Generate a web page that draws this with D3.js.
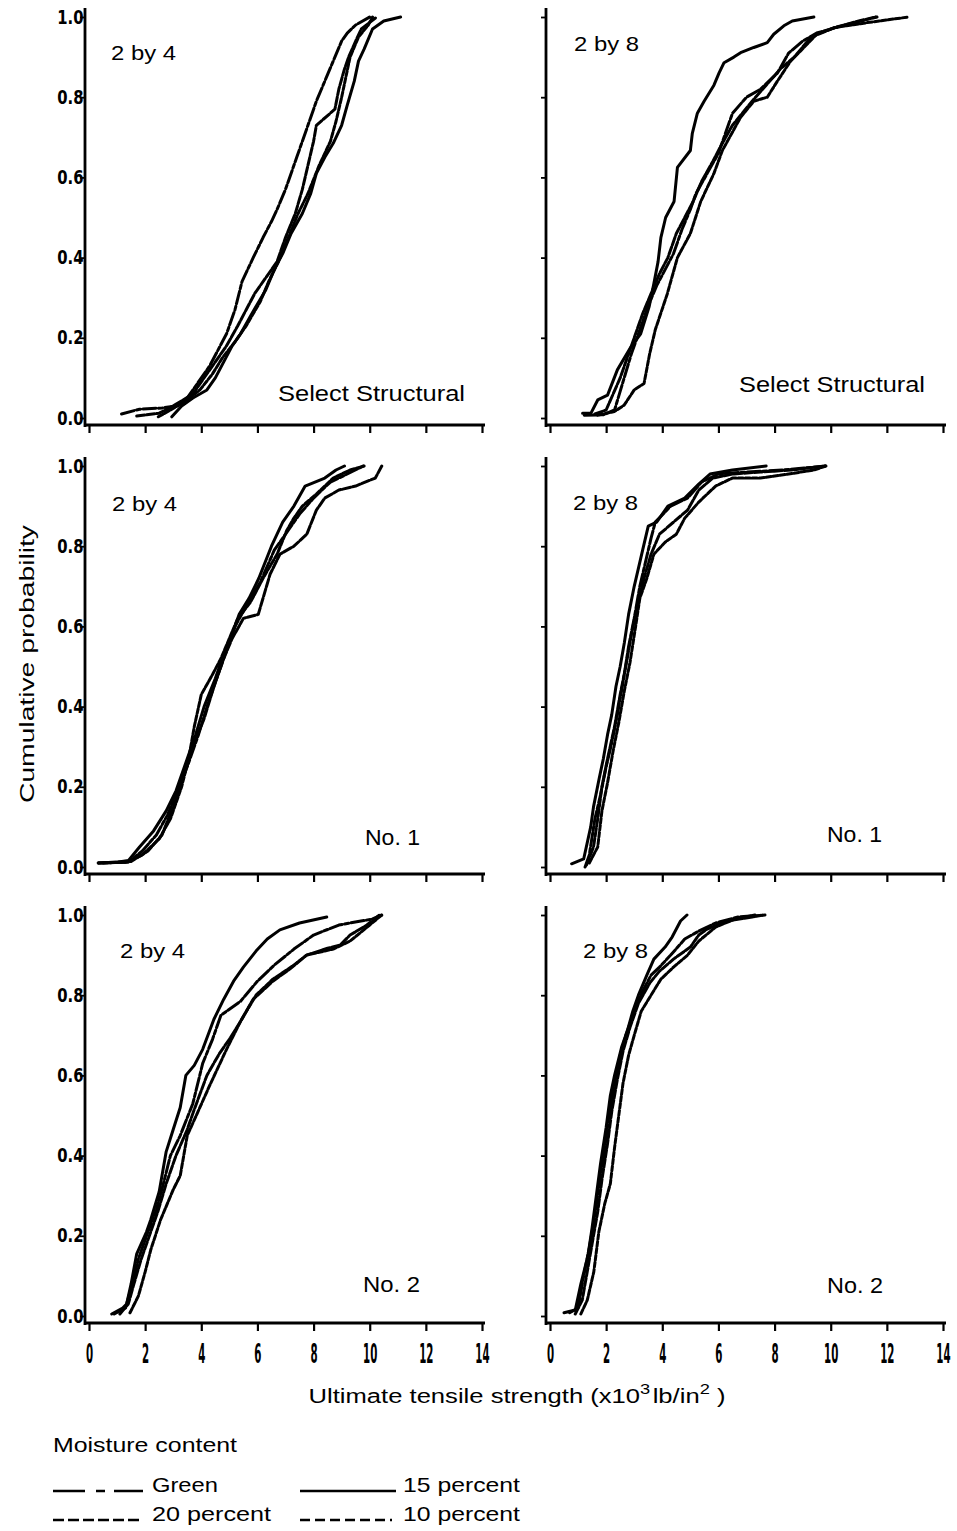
<!DOCTYPE html>
<html><head><meta charset="utf-8">
<script src="https://cdn.jsdelivr.net/npm/d3@7"></script>
<style>body{margin:0;background:#fff}svg{display:block}</style>
</head><body>
<script>
// ---------------- DATA ----------------
const xTicks = [0, 2, 4, 6, 8, 10, 12, 14];
const yTicks = [0, 0.2, 0.4, 0.6, 0.8, 1.0];
const yTickLabels = ["0.0", "0.2", "0.4", "0.6", "0.8", "1.0"];
const sizes = ["2 by 4", "2 by 8"];
const grades = ["Select Structural", "No. 1", "No. 2"];
const seriesNames = ["Green", "15 percent", "20 percent", "10 percent"];

// Select Structural, 2 by 4   [strength (x10^3 lb/in^2), cumulative probability]
const ss24Green = [[1.16,0.01],[1.8,0.022],[2.6,0.025],[3.1,0.03],[3.5,0.05],[3.9,0.09],[4.3,0.13],[4.6,0.17],[4.9,0.21],[5.2,0.27],[5.45,0.34],[5.85,0.40],[6.2,0.45],[6.5,0.49],[6.7,0.52],[7.0,0.57],[7.4,0.65],[7.8,0.73],[8.1,0.79],[8.4,0.84],[8.7,0.89],[9.0,0.94],[9.2,0.96],[9.5,0.98],[10.0,1.0]];
const ss24P20 = [[1.7,0.005],[2.5,0.012],[3.0,0.03],[3.7,0.06],[4.4,0.13],[4.9,0.18],[5.3,0.23],[5.6,0.27],[5.9,0.31],[6.3,0.35],[6.7,0.39],[7.0,0.45],[7.35,0.51],[7.6,0.57],[7.8,0.63],[8.0,0.69],[8.1,0.73],[8.76,0.77],[8.9,0.82],[9.1,0.87],[9.25,0.9],[9.5,0.94],[9.7,0.97],[10.25,1.0]];
const ss24P10 = [[2.47,0.003],[2.9,0.02],[3.4,0.04],[3.95,0.07],[4.4,0.11],[4.75,0.15],[5.2,0.19],[5.6,0.23],[6.1,0.29],[6.4,0.34],[6.75,0.39],[7.1,0.45],[7.45,0.51],[7.8,0.56],[8.2,0.63],[8.6,0.69],[8.8,0.74],[9.0,0.8],[9.3,0.9],[9.6,0.95],[9.95,0.98],[10.1,1.0]];
const ss24P15 = [[2.95,0.003],[3.3,0.03],[3.7,0.05],[4.2,0.07],[4.5,0.1],[4.8,0.14],[5.1,0.18],[5.4,0.21],[5.8,0.26],[6.3,0.32],[6.6,0.37],[6.9,0.41],[7.2,0.46],[7.6,0.51],[7.9,0.56],[8.1,0.61],[8.4,0.65],[8.7,0.685],[9.0,0.73],[9.2,0.78],[9.45,0.84],[9.6,0.89],[9.8,0.92],[10.1,0.97],[10.5,0.99],[11.1,1.0]];

// Select Structural, 2 by 8
const ss28P15 = [[1.16,0.012],[1.46,0.012],[1.7,0.045],[2.05,0.057],[2.4,0.12],[2.88,0.177],[3.23,0.21],[3.53,0.277],[3.7,0.335],[3.85,0.39],[3.95,0.45],[4.12,0.50],[4.42,0.54],[4.54,0.625],[5.0,0.667],[5.07,0.71],[5.25,0.76],[5.49,0.79],[5.84,0.83],[6.02,0.86],[6.2,0.886],[6.55,0.9],[6.79,0.911],[7.26,0.924],[7.74,0.936],[7.97,0.957],[8.33,0.978],[8.63,0.99],[9.4,1.0]];
const ss28Green = [[1.22,0.007],[1.9,0.008],[2.3,0.02],[2.6,0.09],[2.9,0.16],[3.2,0.22],[3.5,0.28],[3.8,0.33],[4.1,0.37],[4.4,0.41],[4.7,0.47],[5.0,0.52],[5.2,0.56],[5.6,0.61],[6.0,0.66],[6.2,0.7],[6.5,0.76],[7.0,0.8],[7.5,0.82],[8.1,0.86],[8.5,0.91],[9.0,0.94],[9.5,0.96],[10.5,0.98],[11.65,1.0]];
const ss28P20 = [[1.6,0.01],[2.0,0.02],[2.5,0.1],[2.75,0.15],[3.0,0.2],[3.3,0.26],[3.6,0.31],[3.9,0.36],[4.2,0.40],[4.5,0.46],[4.8,0.5],[5.1,0.54],[5.4,0.59],[5.8,0.64],[6.1,0.68],[6.5,0.73],[7.2,0.79],[7.7,0.83],[8.2,0.87],[8.7,0.9],[9.3,0.95],[10.2,0.975],[11.0,0.99],[11.6,1.0]];
const ss28P10 = [[1.7,0.007],[2.29,0.016],[2.64,0.032],[3.0,0.07],[3.35,0.086],[3.55,0.16],[3.75,0.22],[4.18,0.31],[4.54,0.40],[5.0,0.46],[5.37,0.54],[5.84,0.61],[6.14,0.667],[6.32,0.69],[6.79,0.75],[7.26,0.79],[7.74,0.8],[8.1,0.84],[8.57,0.89],[8.92,0.915],[9.5,0.957],[10.1,0.973],[11.3,0.986],[12.77,1.0]];

// No. 1, 2 by 4
const n124P15 = [[0.33,0.01],[1.0,0.012],[1.4,0.016],[1.8,0.05],[2.3,0.09],[2.75,0.14],[3.1,0.19],[3.45,0.26],[3.8,0.33],[4.1,0.4],[4.5,0.47],[4.8,0.53],[5.1,0.58],[5.35,0.63],[5.7,0.67],[6.05,0.72],[6.5,0.8],[6.9,0.86],[7.3,0.9],[7.7,0.95],[8.4,0.97],[8.8,0.99],[9.1,1.0]];
const n124Green = [[0.33,0.01],[1.4,0.012],[1.9,0.04],[2.4,0.08],[2.8,0.13],[3.2,0.2],[3.5,0.25],[3.9,0.33],[4.25,0.41],[4.6,0.48],[4.9,0.54],[5.2,0.6],[5.6,0.65],[6.1,0.71],[6.6,0.79],[7.1,0.84],[7.5,0.88],[8.0,0.92],[8.6,0.96],[9.2,0.98],[9.77,1.0]];
const n124P20 = [[0.33,0.01],[1.5,0.014],[2.1,0.04],[2.6,0.08],[3.0,0.15],[3.3,0.21],[3.7,0.3],[4.1,0.37],[4.45,0.45],[4.8,0.52],[5.1,0.57],[5.5,0.62],[6.03,0.63],[6.45,0.73],[6.8,0.78],[7.3,0.8],[7.76,0.83],[8.1,0.89],[8.4,0.92],[8.9,0.94],[9.5,0.95],[10.2,0.97],[10.43,1.0]];
const n124P10 = [[0.5,0.01],[1.3,0.012],[1.9,0.03],[2.5,0.07],[2.9,0.12],[3.3,0.2],[3.55,0.27],[3.75,0.35],[4.0,0.43],[4.4,0.48],[4.7,0.52],[5.0,0.57],[5.3,0.62],[5.75,0.66],[6.2,0.72],[6.7,0.78],[7.05,0.84],[7.3,0.87],[7.6,0.9],[8.1,0.93],[8.7,0.97],[9.3,0.99],[9.8,1.0]];

// No. 1, 2 by 8
const n128P15 = [[0.77,0.008],[1.2,0.02],[1.45,0.1],[1.55,0.15],[1.75,0.22],[1.9,0.27],[2.05,0.33],[2.2,0.38],[2.35,0.45],[2.5,0.5],[2.65,0.56],[2.8,0.63],[3.0,0.7],[3.3,0.79],[3.5,0.85],[3.8,0.86],[4.2,0.9],[4.8,0.92],[5.3,0.955],[5.7,0.98],[6.5,0.99],[7.7,1.0]];
const n128Green = [[1.25,0.0],[1.4,0.03],[1.6,0.12],[1.8,0.18],[2.0,0.25],[2.2,0.31],[2.4,0.38],[2.6,0.46],[2.8,0.55],[3.0,0.62],[3.2,0.7],[3.4,0.76],[3.6,0.82],[3.75,0.86],[4.3,0.9],[4.9,0.92],[5.4,0.96],[6.0,0.98],[7.0,0.985],[8.3,0.99],[9.8,1.0]];
const n128P20 = [[1.3,0.005],[1.55,0.05],[1.7,0.12],[1.85,0.2],[2.05,0.27],[2.3,0.35],[2.5,0.43],[2.7,0.5],[2.9,0.58],[3.1,0.65],[3.35,0.72],[3.6,0.78],[3.9,0.83],[4.4,0.86],[4.9,0.89],[5.3,0.94],[5.8,0.97],[6.5,0.98],[7.5,0.985],[8.6,0.99],[9.2,0.995],[9.8,1.0]];
const n128P10 = [[1.4,0.01],[1.7,0.05],[1.85,0.14],[2.05,0.21],[2.25,0.29],[2.45,0.36],[2.65,0.44],[2.85,0.51],[3.05,0.6],[3.2,0.67],[3.45,0.72],[3.7,0.78],[4.1,0.81],[4.5,0.83],[4.8,0.87],[5.3,0.91],[5.9,0.95],[6.5,0.97],[7.5,0.97],[8.5,0.98],[9.4,0.99],[9.83,1.0]];

// No. 2, 2 by 4
const n224P15 = [[0.81,0.005],[1.2,0.02],[1.34,0.03],[1.5,0.08],[1.7,0.155],[2.05,0.21],[2.2,0.24],[2.5,0.31],[2.75,0.41],[3.0,0.465],[3.25,0.52],[3.45,0.6],[3.75,0.625],[4.05,0.665],[4.45,0.74],[4.8,0.79],[5.15,0.835],[5.5,0.87],[5.95,0.91],[6.35,0.94],[6.8,0.963],[7.5,0.98],[8.47,0.995]];
const n224Green = [[0.9,0.005],[1.3,0.02],[1.5,0.07],[1.75,0.14],[2.1,0.21],[2.4,0.265],[2.65,0.33],[2.9,0.4],[3.25,0.45],[3.7,0.53],[4.05,0.63],[4.4,0.69],[4.7,0.75],[5.4,0.785],[6.0,0.835],[6.6,0.875],[7.3,0.915],[8.0,0.95],[8.9,0.975],[10.1,0.99],[10.43,1.0]];
const n224P20 = [[1.1,0.005],[1.4,0.03],[1.6,0.08],[1.85,0.14],[2.15,0.2],[2.45,0.26],[2.75,0.33],[3.1,0.4],[3.5,0.465],[3.75,0.515],[4.2,0.6],[4.65,0.655],[5.0,0.69],[5.4,0.735],[5.85,0.79],[6.55,0.835],[7.15,0.865],[7.75,0.9],[8.5,0.917],[8.95,0.925],[9.3,0.95],[9.9,0.975],[10.35,1.0]];
const n224P10 = [[1.46,0.008],[1.76,0.05],[2.0,0.11],[2.2,0.165],[2.55,0.24],[3.0,0.315],[3.25,0.35],[3.4,0.41],[3.5,0.45],[3.95,0.52],[4.3,0.575],[4.9,0.665],[5.4,0.735],[5.95,0.8],[6.55,0.84],[7.3,0.875],[7.75,0.9],[8.7,0.915],[9.3,0.935],[10.0,0.975],[10.43,1.0]];

// No. 2, 2 by 8
const n228P15 = [[0.5,0.008],[0.9,0.015],[1.1,0.08],[1.35,0.15],[1.5,0.22],[1.65,0.3],[1.8,0.38],[2.0,0.47],[2.15,0.55],[2.3,0.6],[2.55,0.67],[2.75,0.71],[2.95,0.76],[3.15,0.8],[3.45,0.85],[3.7,0.89],[4.1,0.92],[4.35,0.945],[4.65,0.985],[4.88,1.0]];
const n228Green = [[0.7,0.008],[1.0,0.02],[1.2,0.1],[1.4,0.17],[1.6,0.25],[1.75,0.33],[1.95,0.42],[2.1,0.5],[2.3,0.58],[2.5,0.65],[2.7,0.7],[3.0,0.76],[3.3,0.81],[3.6,0.85],[3.9,0.87],[4.3,0.9],[4.8,0.94],[5.3,0.96],[5.9,0.98],[6.7,0.995],[7.66,1.0]];
const n228P20 = [[0.9,0.005],[1.15,0.04],[1.3,0.1],[1.5,0.18],[1.7,0.26],[1.85,0.34],[2.05,0.43],[2.2,0.51],[2.4,0.59],[2.6,0.66],[2.85,0.72],[3.15,0.78],[3.55,0.83],[3.9,0.86],[4.4,0.89],[5.0,0.92],[5.3,0.95],[5.6,0.965],[6.3,0.985],[7.2,0.995],[7.6,1.0]];
const n228P10 = [[1.1,0.005],[1.33,0.04],[1.56,0.11],[1.74,0.21],[1.95,0.28],[2.15,0.33],[2.3,0.42],[2.45,0.5],[2.6,0.58],[2.8,0.65],[3.0,0.7],[3.25,0.76],[3.6,0.8],[3.95,0.84],[4.4,0.87],[4.9,0.9],[5.3,0.935],[5.9,0.97],[6.6,0.99],[7.3,1.0]];

const panelData = [
  {grade: 0, size: 0, curves: [ss24Green, ss24P15, ss24P20, ss24P10]},
  {grade: 0, size: 1, curves: [ss28Green, ss28P15, ss28P20, ss28P10]},
  {grade: 1, size: 0, curves: [n124Green, n124P15, n124P20, n124P10]},
  {grade: 1, size: 1, curves: [n128Green, n128P15, n128P20, n128P10]},
  {grade: 2, size: 0, curves: [n224Green, n224P15, n224P20, n224P10]},
  {grade: 2, size: 1, curves: [n228Green, n228P15, n228P20, n228P10]}
];

// ---------------- LAYOUT / STYLE ----------------
const W = 957, H = 1531;
const colX0 = [89, 550];          // pixel of strength 0
const rowY0 = [418, 867, 1316];   // pixel of probability 0
const PW = 393, PH = 401;
const curveDash = ["13,2.5,4,2.5", null, "8,2", "5,2"];
const legendDash = ["32,11,9,9,30", null, "11,4", "10,5"];
const sans = "'Liberation Sans', Arial, Helvetica, sans-serif";
const tickFont = "'DejaVu Sans', sans-serif";
// label positions per panel: [sizeX, sizeBaseline, gradeRight, gradeBaseline, gradeWidth]
const labelPos = [
  [111, 60, 465, 401, 187],
  [574, 51, 925, 392, 186],
  [112, 511, 420, 845, 55],
  [573, 510, 882, 842, 55],
  [120, 958, 420, 1292, 57],
  [583, 958, 883, 1293, 56]
];
const sizeWidth = 65;

const svg = d3.select("body").append("svg").attr("width", W).attr("height", H);

function txt(g, x, y, s, size, len, anchor) {
  const t = g.append("text").attr("x", x).attr("y", y).text(s)
    .attr("font-family", sans).attr("font-size", size).attr("fill", "#000")
    .attr("text-anchor", anchor || "start");
  if (len) t.attr("textLength", len).attr("lengthAdjust", "spacingAndGlyphs");
  return t;
}

panelData.forEach((pd, i) => {
  const col = pd.size, row = pd.grade;
  const x = d3.scaleLinear().domain([0, 14]).range([colX0[col], colX0[col] + PW]);
  const y = d3.scaleLinear().domain([0, 1]).range([rowY0[row], rowY0[row] - PH]);
  const g = svg.append("g");

  // y axis
  const axX = colX0[col] - 4;
  const ya = g.append("g").attr("transform", `translate(${axX},0)`)
    .call(d3.axisLeft(y).tickValues(yTicks).tickSize(5).tickPadding(2)
      .tickFormat((d, k) => col === 0 ? yTickLabels[k] : ""));
  ya.select(".domain").remove();
  ya.selectAll(".tick line").attr("stroke", "#000").attr("stroke-width", 1.8);
  ya.selectAll(".tick text").attr("font-family", tickFont).attr("font-weight", "bold")
    .attr("font-size", 19).attr("fill", "#000")
    .attr("x", -1.5 / 0.78).attr("transform", "scale(0.78,1)");
  g.append("line").attr("x1", axX).attr("x2", axX)
    .attr("y1", y(1) - 9).attr("y2", y(0) + 9)
    .attr("stroke", "#000").attr("stroke-width", 2.8);

  // x axis
  const axY = rowY0[row] + 7;
  const xa = g.append("g").attr("transform", `translate(0,${axY})`)
    .call(d3.axisBottom(x).tickValues(xTicks).tickSize(8)
      .tickFormat(d => row === 2 ? d3.format("d")(d) : ""));
  xa.select(".domain").remove();
  xa.selectAll(".tick line").attr("stroke", "#000").attr("stroke-width", 2.2);
  xa.selectAll(".tick text").attr("font-family", tickFont).attr("font-weight", "bold")
    .attr("font-size", 27).attr("fill", "#000")
    .attr("y", 40).attr("dy", 0).attr("transform", "scale(0.38,1)");
  g.append("line").attr("x1", x(0) - 3).attr("x2", x(14) + 3)
    .attr("y1", axY).attr("y2", axY)
    .attr("stroke", "#000").attr("stroke-width", 2.8);

  // curves
  const line = d3.line().x(d => x(d[0])).y(d => y(d[1]));
  pd.curves.forEach((c, k) => {
    g.append("path").datum(c).attr("d", line)
      .attr("fill", "none").attr("stroke", "#000").attr("stroke-width", 3)
      .attr("stroke-linejoin", "round").attr("stroke-linecap", "round")
      .attr("stroke-dasharray", curveDash[k]);
  });

  // labels
  const lp = labelPos[i];
  txt(g, lp[0], lp[1], sizes[pd.size], 21, sizeWidth);
  txt(g, lp[2], lp[3], grades[pd.grade], 22, lp[4], "end");
});

// y-axis title
svg.append("text").attr("transform", "translate(34,664) rotate(-90)")
  .attr("text-anchor", "middle").attr("font-family", sans).attr("font-size", 20)
  .attr("textLength", 278).attr("lengthAdjust", "spacingAndGlyphs")
  .text("Cumulative probability");

// x-axis title with superscripts
const xt = svg.append("text").attr("transform", "translate(517,1403) scale(1.22,1)")
  .attr("text-anchor", "middle").attr("font-family", sans).attr("font-size", 21);
xt.append("tspan").text("Ultimate tensile strength (x10");
xt.append("tspan").attr("dy", -9).attr("font-size", 15).text("3");
xt.append("tspan").attr("dy", 9).attr("dx", 2).text("lb/in");
xt.append("tspan").attr("dy", -9).attr("font-size", 15).text("2");
xt.append("tspan").attr("dy", 9).text(" )");

// legend
const lg = svg.append("g");
txt(lg, 53, 1452, "Moisture content", 21, 184);
const legItems = [
  {k: 0, x1: 53, x2: 143, tx: 152, y: 1492, w: 66},
  {k: 1, x1: 300, x2: 396, tx: 403, y: 1492, w: 117},
  {k: 2, x1: 53, x2: 143, tx: 152, y: 1521, w: 119},
  {k: 3, x1: 300, x2: 392, tx: 403, y: 1521, w: 117}
];
legItems.forEach(it => {
  lg.append("line").attr("x1", it.x1).attr("x2", it.x2).attr("y1", it.y - 1).attr("y2", it.y - 1)
    .attr("stroke", "#000").attr("stroke-width", 2.4).attr("stroke-dasharray", legendDash[it.k]);
  txt(lg, it.tx, it.y, seriesNames[it.k], 21, it.w);
});
</script>
</body></html>
